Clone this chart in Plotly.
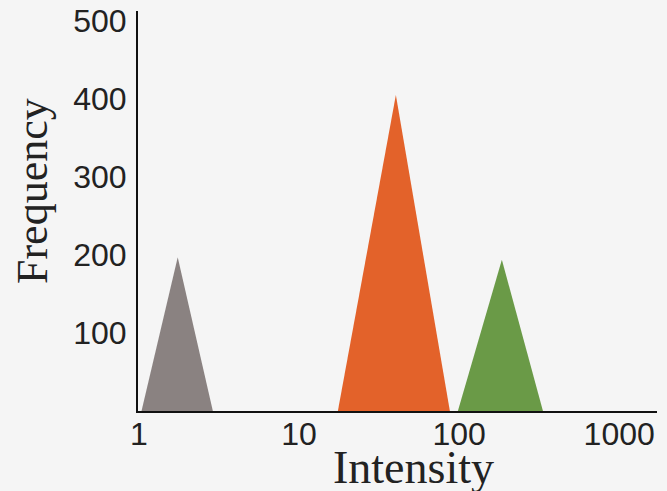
import plotly.graph_objects as go

# Data (intensity on log scale, frequency)
gray_x = [1.04, 1.75, 2.9]
gray_y = [0, 197, 0]
orange_x = [17.5, 40.3, 87.6]
orange_y = [0, 405, 0]
green_x = [98.3, 185, 334]
green_y = [0, 194, 0]

x_ticks = [1, 10, 100, 1000]
x_tick_labels = ["1", "10", "100", "1000"]
y_ticks = [100, 200, 300, 400, 500]
y_tick_labels = ["100", "200", "300", "400", "500"]

colors = ["#8a8281", "#e3622a", "#6a9a47"]

fig = go.Figure()
for xs, ys, c in [(gray_x, gray_y, colors[0]), (orange_x, orange_y, colors[1]), (green_x, green_y, colors[2])]:
    fig.add_trace(go.Scatter(x=xs, y=ys, fill="toself", fillcolor=c, mode="lines",
                             line=dict(width=0, color=c), hoverinfo="skip", showlegend=False))

bg = "#f5f5f5"
tickfont = dict(size=32, family="Liberation Sans, Arial, sans-serif", color="#222222")
fig.update_layout(
    width=667, height=491,
    margin=dict(l=138, r=10, t=11, b=80, autoexpand=False),
    paper_bgcolor=bg, plot_bgcolor=bg,
    font=dict(family="Liberation Sans, Arial, sans-serif", color="#222222"),
)
fig.update_xaxes(
    type="log", range=[-0.005, 3.236], automargin=False,
    tickvals=x_ticks, ticktext=x_tick_labels, tickfont=tickfont,
    showgrid=False, zeroline=False, showline=True, linecolor="#111111", linewidth=2,
    ticks="", ticklabelstandoff=-6,
)
fig.update_yaxes(
    range=[0, 512.8], automargin=False,
    tickvals=y_ticks, ticktext=y_tick_labels, tickfont=tickfont,
    showgrid=False, zeroline=False, showline=True, linecolor="#111111", linewidth=2,
    ticks="", ticklabelstandoff=3,
)
fig.add_annotation(text="Intensity", xref="paper", yref="paper", x=(413 - 138) / 519, y=(411 - 467) / 400,
                   xanchor="center", yanchor="middle", showarrow=False,
                   font=dict(size=46, family="Liberation Serif, Times New Roman, serif", color="#222222"))
fig.add_annotation(text="Frequency", xref="paper", yref="paper", x=(33 - 138) / 519, y=(411 - 191) / 400,
                   xanchor="center", yanchor="middle", showarrow=False, textangle=-90,
                   font=dict(size=44, family="Liberation Serif, Times New Roman, serif", color="#222222"))

fig.write_html("out.html", config={"displayModeBar": False},
               post_script="document.body.style.margin='0';document.body.style.background='#f5f5f5';")
